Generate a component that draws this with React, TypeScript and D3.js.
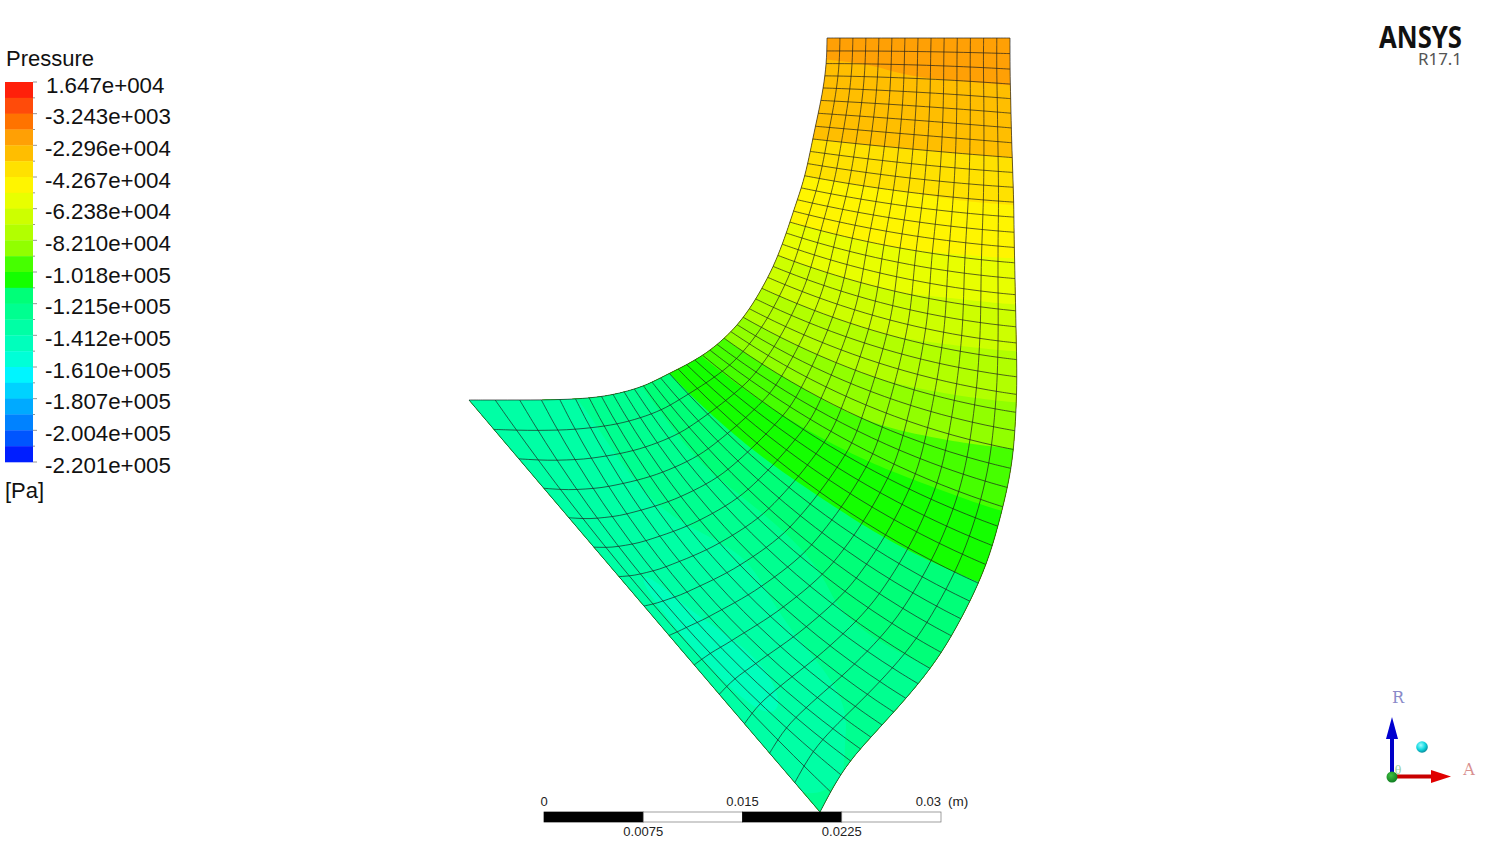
import React from "react";
import * as d3 from "d3";

// ---- legend ----
const legendTitle = "Pressure";
const legendUnit = "[Pa]";
const legendLabels = ["1.647e+004","-3.243e+003","-2.296e+004","-4.267e+004","-6.238e+004","-8.210e+004","-1.018e+005","-1.215e+005","-1.412e+005","-1.610e+005","-1.807e+005","-2.004e+005","-2.201e+005"];
const bandColors = ["#ff200a","#ff4b0a","#ff7300","#ffa005","#ffbe00","#ffe100","#fff500","#e8ff00","#cdff00","#b2ff00","#91ff00","#46ff00","#14ff00","#00ff78","#00ff90","#00ffa5","#00ffbc","#00ffd7","#00f5ff","#00d2ff","#00aaff","#0082ff","#0055ff","#001eff"];

// ---- blade-to-blade mesh (axial / radial wall positions per spanwise row, in mesh units) ----
const axialLeft = [358,358,358,356,354,353,349,346,344,341,339,336,333,328,324,321,318,313,309,305,299,293,287,280,274,268,263,255,248,241,234,226,218,209,201,191,182,176,166,156,144,133,121,108,93,75,53,28,0];
const radialLeft = [774,760,749,735,725,712,699,685,673,660,649,636,624,612,600,590,580,567,557,545,535,524,512,502,494,487,480,474,467,461,457,452,447,443,439,434,429,426,423,420,417,415,414,413,412,412,412,412,412];
const axialRight = [541,541,541,541,542,542,542,543,543,544,544,545,545,545,545,546,546,546,547,547,547,548,548,548,547,546,545,543,539,534,529,524,518,510,501,492,483,473,462,449,437,424,413,401,391,381,373,362,351];
const radialRight = [774,759,742,727,714,699,684,669,655,639,625,610,595,580,564,550,534,517,501,485,470,453,435,418,400,382,362,344,325,305,286,266,247,229,210,193,176,159,143,128,113,99,87,74,63,52,40,25,0];
const midRows = [0,5,10,15,20,26,30,36,40,44,46,47,48];
const axialMid = [449,447,441,431,421,397,376,321,271,218,194,184,175];
const radialMid = [774,706,634,564,492,407,357,285,247,220,211,208,206];
const columnCount = 14;
const rowCount = 48;

// ---- pressure field, expressed as legend band position, at u = 0, .25, .5, .75, 1 ----
const fieldRows = [0,2,5,8,11,15,18,21,24,27,30,34,36,38,41,44,46,48];
const fieldU = [0,0.25,0.5,0.75,1];
const fieldBand0 = [3.75,4.05,4.5,5,6,7,8,9,10,11,11.95,13,13.5,14.3,14.8,15.1,15.3,15.4];
const fieldBand1 = [3.65,3.98,4.4,5,6,7,8,9,10,11,12,13.1,13.7,14.2,14.8,15.4,15.6,15.4];
const fieldBand2 = [3.55,3.85,4.4,5,6,7,8,9,10,11,12.1,13.2,13.8,14.6,15.3,15.8,16.1,15.6];
const fieldBand3 = [3.45,3.8,4.4,5,5.95,7.05,8.1,9.1,10.1,11.2,12.2,13.2,13.6,14.0,15.0,16.0,16.2,15.4];
const fieldBand4 = [3.37,3.78,4.39,5,5.94,7.09,8.14,9.17,10.2,11.4,12.2,13.25,13.5,14.0,14.5,14.8,15,14.9];
const fieldColumns = [fieldBand0,fieldBand1,fieldBand2,fieldBand3,fieldBand4];

// ---- scale bar ----
const scaleTicksTop = [0,0.015,0.03];
const scaleTicksBottom = [0.0075,0.0225];
const scaleSegments = [0,0.0075,0.015,0.0225,0.03];

// ---- screen scales ----
const xMesh = d3.scaleLinear().domain([0,548]).range([469,1017]);
const yMesh = d3.scaleLinear().domain([0,774]).range([812,38]);
const xBar = d3.scaleLinear().domain([0,0.03]).range([544,941]);
const yBand = d3.scaleLinear().domain([0,24]).range([82,462]);
const yLabel = d3.scaleLinear().domain([0,12]).range([85,465]);

function spline(keys:number[], vals:number[]) {
  const n = keys.length;
  const m = vals.map((v,i)=>{
    if (i===0) return (vals[1]-v)/(keys[1]-keys[0]);
    if (i===n-1) return (v-vals[n-2])/(keys[n-1]-keys[n-2]);
    return (vals[i+1]-vals[i-1])/(keys[i+1]-keys[i-1]);
  });
  return (t:number)=>{
    let i = d3.bisectRight(keys,t)-1;
    i = Math.max(0,Math.min(n-2,i));
    const h = keys[i+1]-keys[i];
    const s = (t-keys[i])/h;
    const s2=s*s,s3=s2*s;
    return (2*s3-3*s2+1)*vals[i]+(s3-2*s2+s)*h*m[i]+(-2*s3+3*s2)*vals[i+1]+(s3-s2)*h*m[i+1];
  };
}

// removes the reading noise of the wall positions, the end points stay where they are
function denoise(vals:number[], passes:number) {
  let out = vals.slice();
  for (let p=0;p<passes;p++) {
    out = out.map((v,i)=> (i===0||i===out.length-1) ? v : (out[i-1]+2*v+out[i+1])/4);
  }
  return out;
}

const rowKeys = d3.range(rowCount+1);
const lx = spline(rowKeys,denoise(axialLeft,3)), ly = spline(rowKeys,denoise(radialLeft,3));
const rx = spline(rowKeys,denoise(axialRight,3)), ry = spline(rowKeys,denoise(radialRight,3));
const mx = spline(midRows,axialMid), my = spline(midRows,radialMid);

function node(u:number,j:number):[number,number] {
  const ax=lx(j), ay=ly(j), bx=rx(j), by=ry(j);
  const cx=2*mx(j)-(ax+bx)/2, cy=2*my(j)-(ay+by)/2;
  const w=1-u;
  return [xMesh(w*w*ax+2*u*w*cx+u*u*bx), yMesh(w*w*ay+2*u*w*cy+u*u*by)];
}

const polyline = d3.line<[number,number]>().curve(d3.curveCatmullRom.alpha(0.5));
const rawLine = d3.line<[number,number]>();

function buildContours() {
  const nu = columnCount*4+1, nv = rowCount*4+1;
  const colSplines = fieldColumns.map(c=>spline(fieldRows,c));
  const values = new Array(nu*nv);
  for (let k=0;k<nv;k++) {
    const j = k/4;
    const s = spline(fieldU,colSplines.map(f=>f(j)));
    for (let i=0;i<nu;i++) values[i+k*nu] = s(i/(nu-1));
  }
  const thresholds = d3.range(4,18);
  const cs = d3.contours().size([nu,nv]).thresholds(thresholds)(values);
  const toPoint = (p:number[]):[number,number] => node(
    Math.max(0,Math.min(1,(p[0]-0.5)/(nu-1))),
    Math.max(0,Math.min(rowCount,(p[1]-0.5)*rowCount/(nv-1))));
  return cs.map(c=>({
    band:c.value,
    d:c.coordinates.map(poly=>poly.map(ring=>rawLine(ring.map(toPoint))+"Z").join("")).join("")
  })).filter(c=>c.d.length>0);
}

const sans = "'Liberation Sans', Arial, sans-serif";

export default function App() {
  const contours = buildContours();
  const outline:[number,number][] = [
    ...d3.range(0,rowCount+0.01,0.25).map(j=>node(0,j)),
    ...d3.range(0,1.001,0.05).map(u=>node(u,rowCount)),
    ...d3.range(rowCount,-0.01,-0.25).map(j=>node(1,j)),
  ];
  const crossLines = d3.range(rowCount+1).map(j=>polyline(d3.range(0,1.001,0.05).map(u=>node(u,j))) as string);
  const streamLines = d3.range(columnCount+1).map(i=>polyline(d3.range(0,rowCount+0.01,0.5).map(j=>node(i/columnCount,j))) as string);
  return (
    <svg width={1485} height={857} style={{position:"absolute",left:0,top:0,display:"block",background:"#fff"}} fontFamily={sans}>
      <defs>
        <radialGradient id="ball" cx="40%" cy="35%" r="70%">
          <stop offset="0%" stopColor="#9ffcff"/><stop offset="55%" stopColor="#10d8e0"/><stop offset="100%" stopColor="#087f90"/>
        </radialGradient>
        <radialGradient id="ballG" cx="40%" cy="35%" r="70%">
          <stop offset="0%" stopColor="#40c040"/><stop offset="100%" stopColor="#0d7a20"/>
        </radialGradient>
      </defs>

      {/* contour fill */}
      <path d={rawLine(outline)+"Z"} fill={bandColors[3]}/>
      {contours.map(c=><path key={c.band} d={c.d} fill={bandColors[c.band]} fillRule="evenodd"/>)}

      {/* mesh */}
      <g fill="none" stroke="#1c1c1c" strokeWidth={0.8} strokeOpacity={0.85}>
        {crossLines.map((d,i)=><path key={"c"+i} d={d}/>)}
        {streamLines.map((d,i)=><path key={"s"+i} d={d}/>)}
      </g>

      {/* legend */}
      <text x={6} y={66} fontSize={22} fill="#111">{legendTitle}</text>
      {bandColors.map((c,i)=>(
        <rect key={i} x={5} y={yBand(i)} width={28} height={yBand(i+1)-yBand(i)+0.3} fill={c}/>
      ))}
      {d3.range(0,25).map(i=>(
        <line key={i} x1={33} x2={i%2===0?37:35} y1={yBand(i)} y2={yBand(i)} stroke="#777" strokeWidth={0.8}/>
      ))}
      {legendLabels.map((t,i)=>(
        <text key={t} x={t[0]==="-"?45:46} y={yLabel(i)+7.5} fontSize={22.3} fill="#111">{t}</text>
      ))}
      <text x={5} y={498} fontSize={22} fill="#111">{legendUnit}</text>

      {/* scale bar */}
      {scaleSegments.slice(0,-1).map((v,i)=>(
        <rect key={v} x={xBar(v)} y={812} width={xBar(scaleSegments[i+1])-xBar(v)} height={10}
          fill={i%2===0?"#000":"#fff"} stroke={i%2===0?"#000":"#777"} strokeWidth={0.7}/>
      ))}
      {scaleTicksTop.map(v=>(
        <text key={v} x={xBar(v)} y={806} fontSize={13} fill="#222" textAnchor={v===0.03?"end":"middle"}>{String(v)}</text>
      ))}
      <text x={948} y={806} fontSize={13.5} fill="#222">(m)</text>
      {scaleTicksBottom.map(v=>(
        <text key={v} x={xBar(v)} y={836} fontSize={13} fill="#222" textAnchor="middle">{String(v)}</text>
      ))}

      {/* logo */}
      <text x={1379} y={48} fontSize={30} fontWeight={700} fontFamily="'Noto Sans', sans-serif" fill="#111" textLength={83} lengthAdjust="spacingAndGlyphs">ANSYS</text>
      <text x={1418} y={65} fontSize={16} fontFamily="'Noto Sans', sans-serif" fill="#555" textLength={44} lengthAdjust="spacingAndGlyphs">R17.1</text>

      {/* triad */}
      <text x={1398} y={703} fontSize={16} fontFamily="'DejaVu Serif', serif" fill="#8a8ac8" textAnchor="middle">R</text>
      <text x={1469} y={775} fontSize={16} fontFamily="'DejaVu Serif', serif" fill="#d89090" textAnchor="middle">A</text>
      <text x={1398} y={774} fontSize={11} fontFamily="'DejaVu Serif', serif" fill="#9ad09a" textAnchor="middle">θ</text>
      <line x1={1392} y1={777} x2={1392} y2={735} stroke="#0000c8" strokeWidth={4}/>
      <path d="M1392 717 L1386 739 L1398 739 Z" fill="#0000d0"/>
      <line x1={1392} y1={776.5} x2={1434} y2={776.5} stroke="#c80000" strokeWidth={4}/>
      <path d="M1451 776.5 L1431 770 L1431 783 Z" fill="#e00000"/>
      <circle cx={1392} cy={777} r={5.5} fill="url(#ballG)"/>
      <circle cx={1422} cy={747} r={5.8} fill="url(#ball)"/>
    </svg>
  );
}
